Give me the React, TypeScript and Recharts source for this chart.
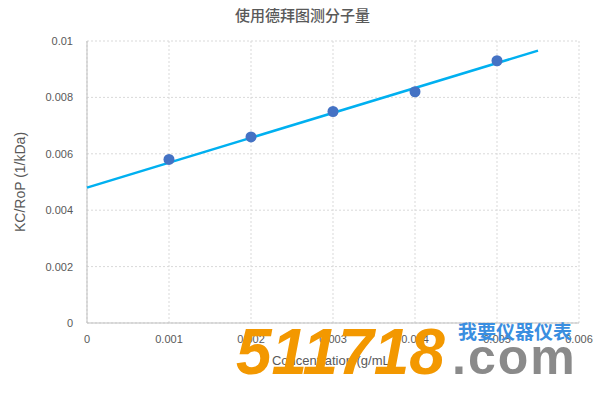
import React from "react";
import { ScatterChart, Scatter, XAxis, YAxis, CartesianGrid, Label } from "recharts";

const concentrations = [0.001, 0.002, 0.003, 0.004, 0.005];
const kcRatio = [0.0058, 0.0066, 0.0075, 0.0082, 0.0093];
const trendX = [0, 0.0055];
const trendY = [0.0048, 0.00966];
const xTicks = [0, 0.001, 0.002, 0.003, 0.004, 0.005, 0.006];
const yTicks = [0, 0.002, 0.004, 0.006, 0.008, 0.01];

const points = concentrations.map((x, i) => ({ x, y: kcRatio[i] }));
const trend = trendX.map((x, i) => ({ x, y: trendY[i] }));

const tickStyle = { fill: "#595959", fontSize: 11, fontFamily: "Liberation Sans, Arial, sans-serif" };

export default function App() {
  return (
    <div style={{ position: "fixed", left: 0, top: 0, width: 605, height: 398, background: "#fff" }}>
      <div
        style={{
          position: "absolute",
          left: 0,
          top: 4,
          width: 605,
          textAlign: "center",
          fontSize: 15,
          fontWeight: 500,
          color: "#595959",
          fontFamily: "Noto Sans CJK SC, sans-serif",
        }}
      >
        使用德拜图测分子量
      </div>
      <ScatterChart width={605} height={398} margin={{ top: 41, right: 26, bottom: 0, left: 0 }}>
        <CartesianGrid stroke="#D9D9D9" strokeDasharray="2 2" />
        <XAxis
          type="number"
          dataKey="x"
          domain={[0, 0.006]}
          ticks={xTicks}
          tickFormatter={(v) => String(v)}
          tick={tickStyle}
          tickLine={false}
          tickSize={0}
          tickMargin={12}
          axisLine={{ stroke: "#BFBFBF" }}
          height={75}
          interval={0}
        >
          <Label
            value="Concentration (g/mL)"
            position="insideTop"
            offset={33}
            style={{ fill: "#595959", fontSize: 13, fontFamily: "Liberation Sans, Arial, sans-serif" }}
          />
        </XAxis>
        <YAxis
          type="number"
          dataKey="y"
          domain={[0, 0.01]}
          ticks={yTicks}
          tickFormatter={(v) => String(v)}
          tick={tickStyle}
          tickLine={false}
          tickSize={0}
          tickMargin={14}
          axisLine={{ stroke: "#BFBFBF" }}
          width={87}
          interval={0}
        >
          <Label
            value="KC/RoP (1/kDa)"
            angle={-90}
            position="insideLeft"
            offset={20}
            style={{ textAnchor: "middle", fill: "#595959", fontSize: 14, fontFamily: "Liberation Sans, Arial, sans-serif" }}
          />
        </YAxis>
        <Scatter
          data={trend}
          line={{ stroke: "#00B0F0", strokeWidth: 2.5 }}
          lineType="joint"
          shape={() => null}
          isAnimationActive={false}
        />
        <Scatter
          data={points}
          fill="#4472C4"
          shape={(p: any) => <circle cx={p.cx} cy={p.cy} r={5.5} fill="#4472C4" />}
          isAnimationActive={false}
        />
      </ScatterChart>
      <div
        style={{
          position: "absolute",
          left: 236,
          top: 317,
          fontSize: 64,
          fontWeight: 900,
          fontStyle: "italic",
          color: "#F39800",
          fontFamily: "Liberation Sans, Arial, sans-serif",
          letterSpacing: 0,
          lineHeight: "70px",
        }}
      >
        511718
      </div>
      <div
        style={{
          position: "absolute",
          left: 458,
          top: 320,
          fontSize: 19,
          fontWeight: 700,
          color: "#3A8EE0",
          fontFamily: "Noto Sans CJK SC, sans-serif",
          lineHeight: "22px",
          letterSpacing: 0,
        }}
      >
        我要仪器仪表
      </div>
      <div
        style={{
          position: "absolute",
          left: 452,
          top: 330,
          fontSize: 50,
          fontWeight: 700,
          color: "#8A8A8A",
          fontFamily: "Liberation Sans, Arial, sans-serif",
          lineHeight: "54px",
          letterSpacing: 2,
        }}
      >
        .com
      </div>
    </div>
  );
}
